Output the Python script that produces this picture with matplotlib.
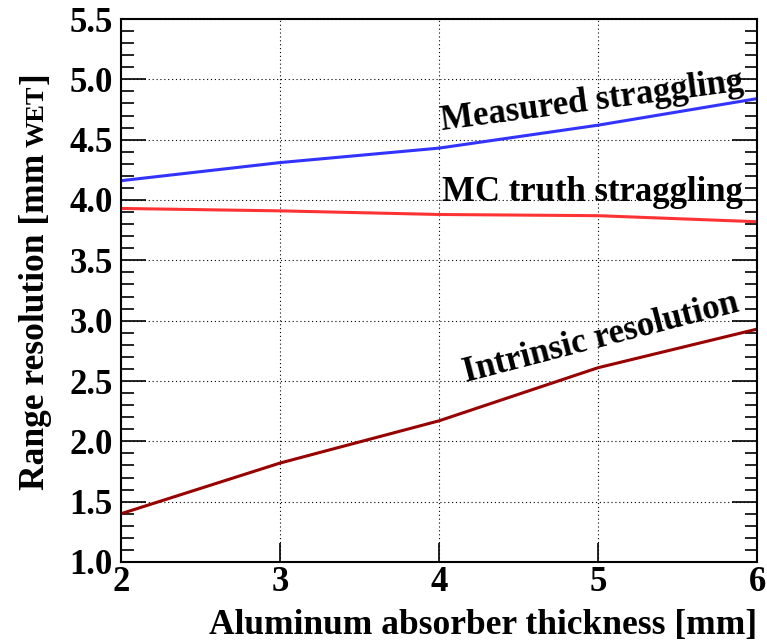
import numpy as np
import matplotlib
matplotlib.use("Agg")
import matplotlib.pyplot as plt
from matplotlib.ticker import MultipleLocator

# data
thickness = [2, 3, 4, 5, 6]
measured = [4.16, 4.31, 4.43, 4.62, 4.84]
mc_truth = [3.93, 3.91, 3.88, 3.87, 3.82]
intrinsic = [1.40, 1.82, 2.17, 2.61, 2.93]

plt.rcParams['font.family'] = ['Liberation Serif', 'DejaVu Serif']
plt.rcParams['font.weight'] = 'bold'

fig = plt.figure(figsize=(7.67, 6.43), dpi=100)
ax = fig.add_axes([121/767, 1 - 562/643, (757 - 121)/767, (562 - 19)/643])

ax.plot(thickness, measured, color='#3333ff', lw=2.2)
ax.plot(thickness, mc_truth, color='#ff3333', lw=2.2)
ax.plot(thickness, intrinsic, color='#990000', lw=2.2)

ax.set_xlim(2, 6)
ax.set_ylim(1.0, 5.5)
ax.xaxis.set_major_locator(MultipleLocator(1))
ax.yaxis.set_major_locator(MultipleLocator(0.5))
ax.yaxis.set_minor_locator(MultipleLocator(0.1))
ax.grid(True, which='major', color='black', linestyle=(0, (1, 2.5)), lw=0.8)

ax.tick_params(axis='both', which='both', direction='in', right=True, top=False,
               labelsize=25, width=1.2)
ax.tick_params(axis='y', which='major', length=18, pad=6)
ax.tick_params(axis='y', which='minor', length=9)
ax.tick_params(axis='x', which='major', length=14, pad=3)
ax.set_yticklabels(['%.1f' % v for v in ax.get_yticks()])
for lab in ax.get_xticklabels() + ax.get_yticklabels():
    lab.set_fontweight('bold')
for sp in ax.spines.values():
    sp.set_linewidth(1.5)

# line labels
ax.text(4.02, 4.58, 'Measured straggling', fontsize=25, fontweight='bold',
        rotation=7.5, rotation_mode='anchor', ha='left', va='baseline')
ax.text(4.02, 3.99, 'MC truth straggling', fontsize=25, fontweight='bold',
        ha='left', va='baseline')
ax.text(4.17, 2.49, 'Intrinsic resolution', fontsize=25, fontweight='bold',
        rotation=14.5, rotation_mode='anchor', ha='left', va='baseline')

# axis titles
fig.text(757/767, 1 - 634/643, 'Aluminum absorber thickness [mm]', fontsize=25.5,
         fontweight='bold', ha='right', va='baseline')

xb = 44/767
t1 = fig.text(xb, 1 - 490/643, 'Range resolution [mm', fontsize=25.5, fontweight='bold',
              rotation=90, rotation_mode='anchor', ha='left', va='baseline')
r = fig.canvas.get_renderer()
bb = t1.get_window_extent(r)
y2 = (bb.y1 + 7) / fig.bbox.height
t2 = fig.text(xb, y2, 'WET', fontsize=19, fontweight='bold',
              rotation=90, rotation_mode='anchor', ha='left', va='baseline')
bb2 = t2.get_window_extent(r)
y3 = (bb2.y1 + 1) / fig.bbox.height
fig.text(xb, y3, ']', fontsize=25.5, fontweight='bold',
         rotation=90, rotation_mode='anchor', ha='left', va='baseline')

fig.savefig('out.png', dpi=100)
